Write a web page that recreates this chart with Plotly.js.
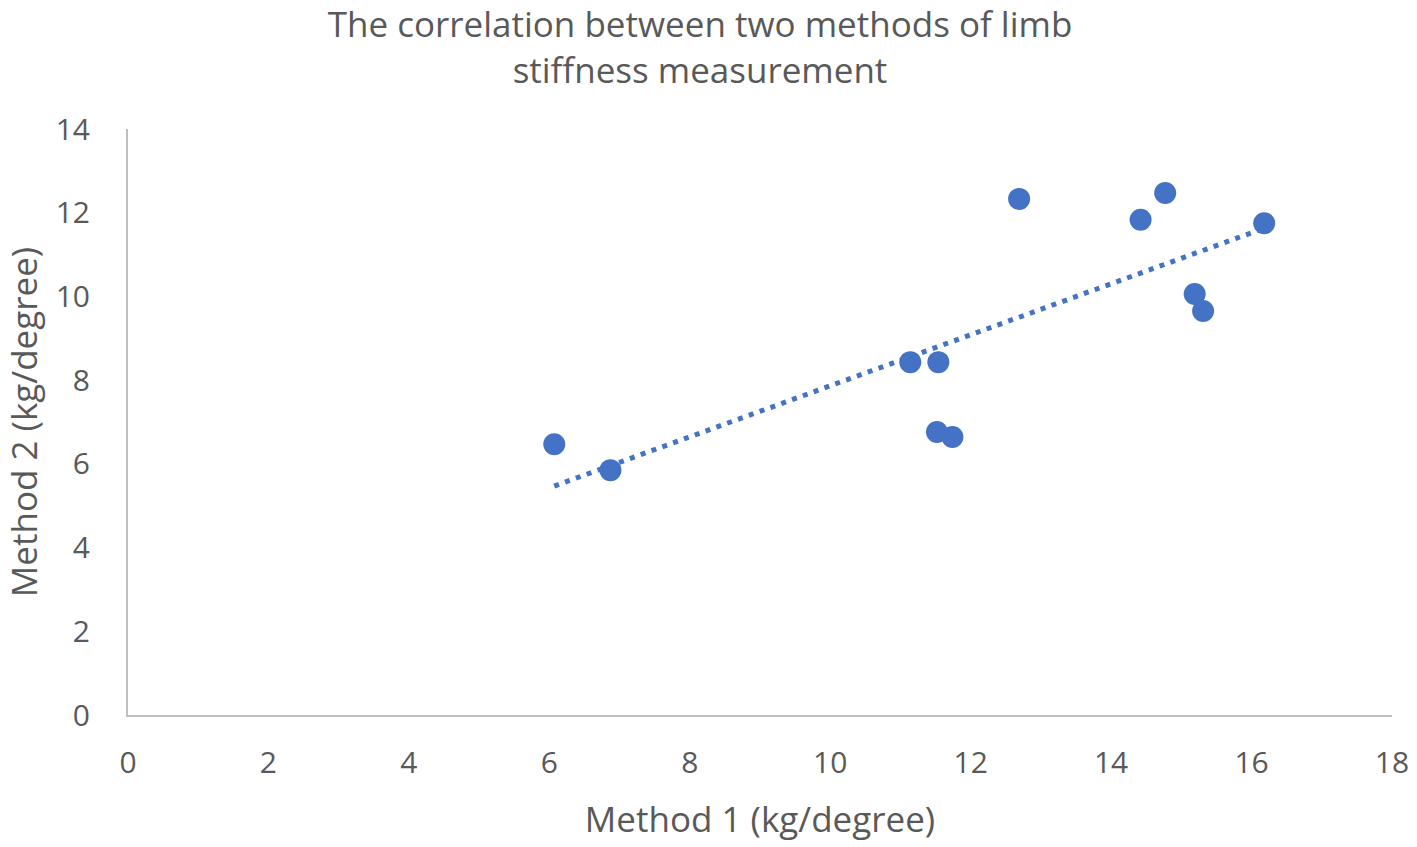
<!DOCTYPE html>
<html>
<head>
<meta charset="utf-8">
<script src="https://cdn.plot.ly/plotly-3.0.1.min.js"></script>
<style>html,body{margin:0;padding:0;background:#fff;}#chart{width:1417px;height:847px;}</style>
</head>
<body>
<div id="chart"></div>
<script>
// Data
const method1 = [6.07, 6.87, 11.14, 11.54, 11.52, 11.74, 12.69, 14.42, 14.77, 15.19, 15.31, 16.18];
const method2 = [6.47, 5.85, 8.43, 8.43, 6.76, 6.64, 12.33, 11.83, 12.47, 10.06, 9.65, 11.75];
// Linear trendline end points (as drawn in the reference)
const trendX = [6.07, 16.18];
const trendY = [5.47, 11.63];
const xTicks = [0, 2, 4, 6, 8, 10, 12, 14, 16, 18];
const yTicks = [0, 2, 4, 6, 8, 10, 12, 14];

const gray = '#595959';
const blue = '#4472C4';
const font = 'Open Sans, DejaVu Sans, sans-serif';

const traces = [
  {
    x: trendX, y: trendY, type: 'scatter', mode: 'lines',
    line: {color: blue, width: 5, dash: '5px,6.5px'},
    hoverinfo: 'skip', showlegend: false
  },
  {
    x: method1, y: method2, type: 'scatter', mode: 'markers',
    marker: {color: blue, size: 22, line: {width: 0}},
    showlegend: false
  }
];

const layout = {
  width: 1417, height: 847,
  paper_bgcolor: '#ffffff', plot_bgcolor: '#ffffff',
  margin: {l: 128, r: 25, t: 129, b: 132},
  font: {family: font, color: gray},
  title: {
    text: 'The correlation between two methods of limb<br>stiffness measurement',
    font: {family: font, size: 35, color: gray},
    x: 0.494, xanchor: 'center', y: 1 - 37 / 847, yanchor: 'middle'
  },
  xaxis: {
    range: [0, 18], tickvals: xTicks, ticktext: xTicks.map(String),
    showgrid: false, zeroline: false, showline: true,
    linecolor: '#BFBFBF', linewidth: 2, ticks: '',
    tickfont: {family: font, size: 30, color: gray},
    ticklabelstandoff: 20,
    title: {text: 'Method 1 (kg/degree)', font: {family: font, size: 35, color: gray}, standoff: 26}
  },
  yaxis: {
    range: [0, 14], tickvals: yTicks, ticktext: yTicks.map(String),
    showgrid: false, zeroline: false, showline: true,
    linecolor: '#BFBFBF', linewidth: 2, ticks: '',
    tickfont: {family: font, size: 30, color: gray},
    ticklabelstandoff: 30,
    title: {text: 'Method 2 (kg/degree)', font: {family: font, size: 35, color: gray}, standoff: 16}
  }
};

Plotly.newPlot('chart', traces, layout, {displayModeBar: false, staticPlot: true});
</script>
</body>
</html>
